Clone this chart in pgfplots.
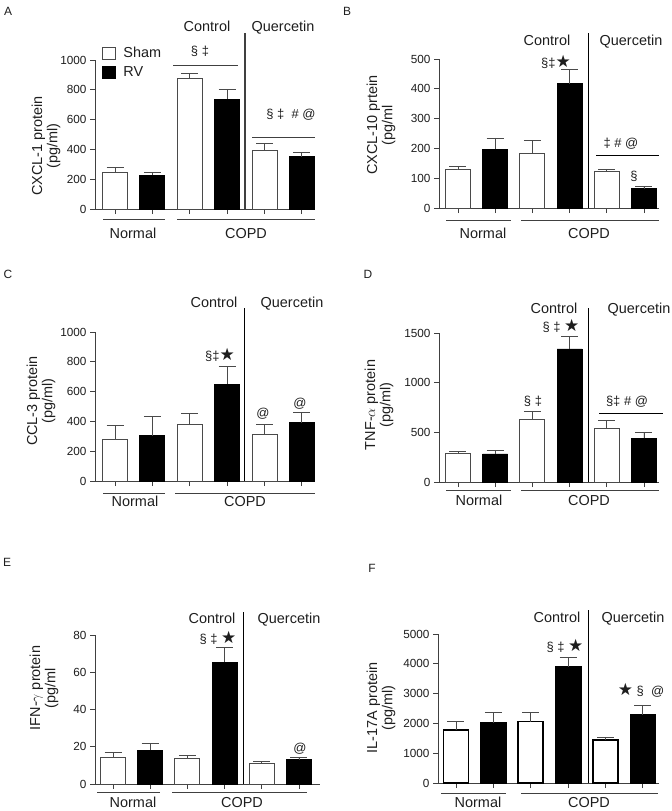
\documentclass[border=0pt]{standalone}
\usepackage{pgfplots}
\pgfplotsset{compat=1.18}
\usepackage{fontspec}
\setmainfont{Liberation Sans}
\newfontfamily\dejavu{DejaVu Sans}
\definecolor{axgray}{HTML}{404040}
\definecolor{bargray}{HTML}{4A4A4A}
\definecolor{txt}{HTML}{1E1E1E}
\newcommand\lbl{\fontsize{14.5}{15.5}\selectfont}
\newcommand\tck{\fontsize{11.8}{12}\selectfont}
\newcommand\sig{\fontsize{13}{13}\selectfont}
\newcommand\st{{\dejavu\fontsize{17}{17}\selectfont ★}}

\pgfplotsset{
  panel/.style={
    scale only axis, height=149bp, ymin=0,
    axis x line*=bottom, axis y line*=left,
    axis line style={line width=0.9bp, draw=axgray},
    tick style={line width=0.9bp, draw=axgray},
    tick align=outside, major tick length=5bp,
    xtick={1,2,3,4,5,6}, xticklabels={},
    yticklabel style={font=\tck, text=txt},
    /pgf/number format/1000 sep={},
    /pgf/number format/assume math mode=true,
    clip=false,
  },
  left/.style={panel, width=220bp, xmin=0.465, xmax=6.35},
  right/.style={panel, width=220bp, xmin=0.49, xmax=6.404},
  errs/.style={
    error bars/y dir=plus, error bars/y explicit,
    error bars/error bar style={line width=0.9bp, draw=bargray},
    error bars/error mark options={rotate=90, mark size=8.5bp, line width=0.9bp, draw=bargray}},
  sham/.style={ybar, bar width=25bp, bar shift=0pt, fill=white, draw=bargray,
    line width=0.9bp, forget plot, errs},
  rv/.style={ybar, bar width=25bp, bar shift=0pt, fill=black, draw=black,
    line width=0.9bp, forget plot, errs},
}

\begin{document}
\begin{tikzpicture}
\path[use as bounding box] (0,0) rectangle (672bp,-811bp);

% A  CXCL-1
\begin{axis}[left, at={(95bp,-209bp)}, anchor=south west, ymax=1000,
  ytick={0,200,...,1000},
  legend style={at={(0.03,1.10)}, anchor=north west, draw=none, fill=none,
    font=\lbl, text=txt, row sep=3bp, inner sep=0pt, cells={anchor=west}}]
  \addplot[sham] coordinates {(1,247) +- (0,33) (3,879) +- (0,31) (5,392) +- (0,45)};
  \addplot[rv] coordinates {(2,226) +- (0,18) (4,735) +- (0,70) (6,352) +- (0,27)};
  \addlegendimage{legend image code/.code={\draw[fill=white, draw=bargray, line width=1bp] (0bp,-6bp) rectangle (13bp,6bp); \path (19bp,0bp);}}
  \addlegendentry{Sham}
  \addlegendimage{legend image code/.code={\draw[fill=black, draw=black] (0bp,-6bp) rectangle (13bp,6bp); \path (19bp,0bp);}}
  \addlegendentry{RV}
\end{axis}

% B  CXCL-10
\begin{axis}[right, at={(439bp,-208bp)}, anchor=south west, ymax=500,
  ytick={0,100,...,500}]
  \addplot[sham] coordinates {(1,128) +- (0,12) (3,182) +- (0,45) (5,121) +- (0,8)};
  \addplot[rv] coordinates {(2,197) +- (0,38) (4,417) +- (0,48) (6,64) +- (0,7)};
\end{axis}

% C  CCL-3
\begin{axis}[left, at={(95bp,-481bp)}, anchor=south west, ymax=1000,
  ytick={0,200,...,1000}]
  \addplot[sham] coordinates {(1,280) +- (0,94) (3,377) +- (0,74) (5,312) +- (0,67)};
  \addplot[rv] coordinates {(2,303) +- (0,132) (4,650) +- (0,119) (6,392) +- (0,65)};
\end{axis}

% D  TNF-alpha
\begin{axis}[right, at={(439bp,-482bp)}, anchor=south west, ymax=1500,
  ytick={0,500,1000,1500}]
  \addplot[sham] coordinates {(1,285) +- (0,24) (3,628) +- (0,83) (5,537) +- (0,84)};
  \addplot[rv] coordinates {(2,282) +- (0,40) (4,1339) +- (0,127) (6,440) +- (0,57)};
\end{axis}

% E  IFN-gamma
\begin{axis}[panel, width=225bp, xmin=0.516, xmax=6.565,
  at={(95bp,-784bp)}, anchor=south west, ymax=80, ytick={0,20,...,80}]
  \addplot[sham] coordinates {(1,14.3) +- (0,2.4) (3,13.8) +- (0,1.8) (5,11.0) +- (0,0.9)};
  \addplot[rv] coordinates {(2,18.1) +- (0,3.8) (4,65.4) +- (0,7.9) (6,13.0) +- (0,1.3)};
\end{axis}

% F  IL-17A
\begin{axis}[panel, width=221bp, xmin=0.52, xmax=6.43,
  at={(438bp,-783bp)}, anchor=south west, ymax=5000, ytick={0,1000,...,5000}]
  \addplot[sham, draw=black, line width=1.8bp] coordinates {(1,1792) +- (0,259) (3,2062) +- (0,304) (5,1454) +- (0,78)};
  \addplot[rv, line width=1.8bp] coordinates {(2,2006) +- (0,371) (4,3899) +- (0,304) (6,2299) +- (0,304)};
\end{axis}

\begin{scope}[x=1bp, y=-1bp, text=txt]
  % panel letters
  \node[font=\fontsize{12}{12}\selectfont] at (8,11) {A};
  \node[font=\fontsize{12}{12}\selectfont] at (347,11) {B};
  \node[font=\fontsize{12}{12}\selectfont] at (8,274) {C};
  \node[font=\fontsize{12}{12}\selectfont] at (368,274) {D};
  \node[font=\fontsize{12}{12}\selectfont] at (7,562) {E};
  \node[font=\fontsize{12}{12}\selectfont] at (372,568) {F};

  % y labels
  \node[rotate=90, align=center, font=\lbl] at (46,146) {CXCL-1 protein\\(pg/ml)};
  \node[rotate=90, align=center, font=\lbl] at (381,125) {CXCL-10 prtein\\(pg/ml};
  \node[rotate=90, align=center, font=\lbl] at (41,401) {CCL-3 protein\\(pg/ml)};
  \node[rotate=90, align=center, font=\lbl] at (379,405) {TNF-$\alpha$ protein\\(pg/ml)};
  \node[rotate=90, align=center, font=\lbl] at (44,688) {IFN-$\gamma$ protein\\(pg/ml};
  \node[rotate=90, align=center, font=\lbl] at (381,708) {IL-17A protein\\(pg/ml)};

  \tikzset{grp/.style={anchor=base, font=\lbl, inner sep=0pt}}
  % Control / Quercetin headers and dividers
  \node[grp] at (207,31) {Control};  \node[grp] at (283,31) {Quercetin};
  \draw[axgray, line width=1.5bp] (245,33) -- (245,209);
  \node[grp] at (547,45) {Control};  \node[grp] at (631,45) {Quercetin};
  \draw[black, line width=0.9bp] (588,33) -- (588,208);
  \node[grp] at (214,307) {Control}; \node[grp] at (292,307) {Quercetin};
  \draw[black, line width=0.9bp] (244,308) -- (244,481);
  \node[grp] at (554,313) {Control}; \node[grp] at (639,313) {Quercetin};
  \draw[black, line width=0.9bp] (588,308) -- (588,482);
  \node[grp] at (212,623) {Control}; \node[grp] at (289,623) {Quercetin};
  \draw[black, line width=0.9bp] (243,612) -- (243,784);
  \node[grp] at (557,622) {Control}; \node[grp] at (633,622) {Quercetin};
  \draw[black, line width=0.9bp] (588,610) -- (588,783);

  % Normal / COPD group lines
  \draw[axgray, line width=0.9bp] (103,219) -- (165,219) (177,219) -- (315,219);
  \node[grp] at (133,238) {Normal}; \node[grp] at (246,238) {COPD};
  \draw[axgray, line width=0.9bp] (446,220) -- (511,220) (521,220) -- (659,220);
  \node[grp] at (483,238) {Normal}; \node[grp] at (589,238) {COPD};
  \draw[axgray, line width=0.9bp] (103,493) -- (165,493) (175,493) -- (315,493);
  \node[grp] at (135,506) {Normal}; \node[grp] at (245,506) {COPD};
  \draw[axgray, line width=0.9bp] (446,490) -- (511,490) (521,490) -- (659,490);
  \node[grp] at (479,505) {Normal}; \node[grp] at (589,505) {COPD};
  \draw[axgray, line width=0.9bp] (97,792) -- (160,792) (172,792) -- (307,792);
  \node[grp] at (133,807) {Normal}; \node[grp] at (242,807) {COPD};
  \draw[axgray, line width=0.9bp] (441,793) -- (506,793) (521,793) -- (658,793);
  \node[grp] at (478,807) {Normal}; \node[grp] at (589,807) {COPD};

  % significance marks
  \tikzset{sg/.style={anchor=base, font=\sig, inner sep=0pt}}
  \node[sg] at (200,55) {§ ‡};
  \draw[axgray, line width=0.9bp] (173,65) -- (238,65);
  \node[sg] at (291,118) {§ ‡ \ \# @};
  \draw[axgray, line width=0.9bp] (252,137) -- (315,137);

  \node[sg] at (556,67) {§‡\st};
  \node[sg] at (621,147) {‡ \# @};
  \draw[black, line width=0.9bp] (596,155) -- (659,155);
  \node[sg] at (634,180) {§};

  \node[sg] at (220,360) {§‡\st};
  \node[sg] at (263,417) {@};
  \node[sg] at (300,407) {@};

  \node[sg] at (561,331) {§ ‡ \st};
  \node[sg] at (533,405) {§ ‡};
  \node[sg] at (627,405) {§‡ \# @};
  \draw[black, line width=0.9bp] (599,413) -- (663,413);

  \node[sg] at (218,643) {§ ‡ \st};
  \node[sg] at (300,752) {@};

  \node[sg] at (565,651) {§ ‡ \st};
  \node[sg] at (641,695) {\st\ § \ @};
\end{scope}
\end{tikzpicture}
\end{document}
